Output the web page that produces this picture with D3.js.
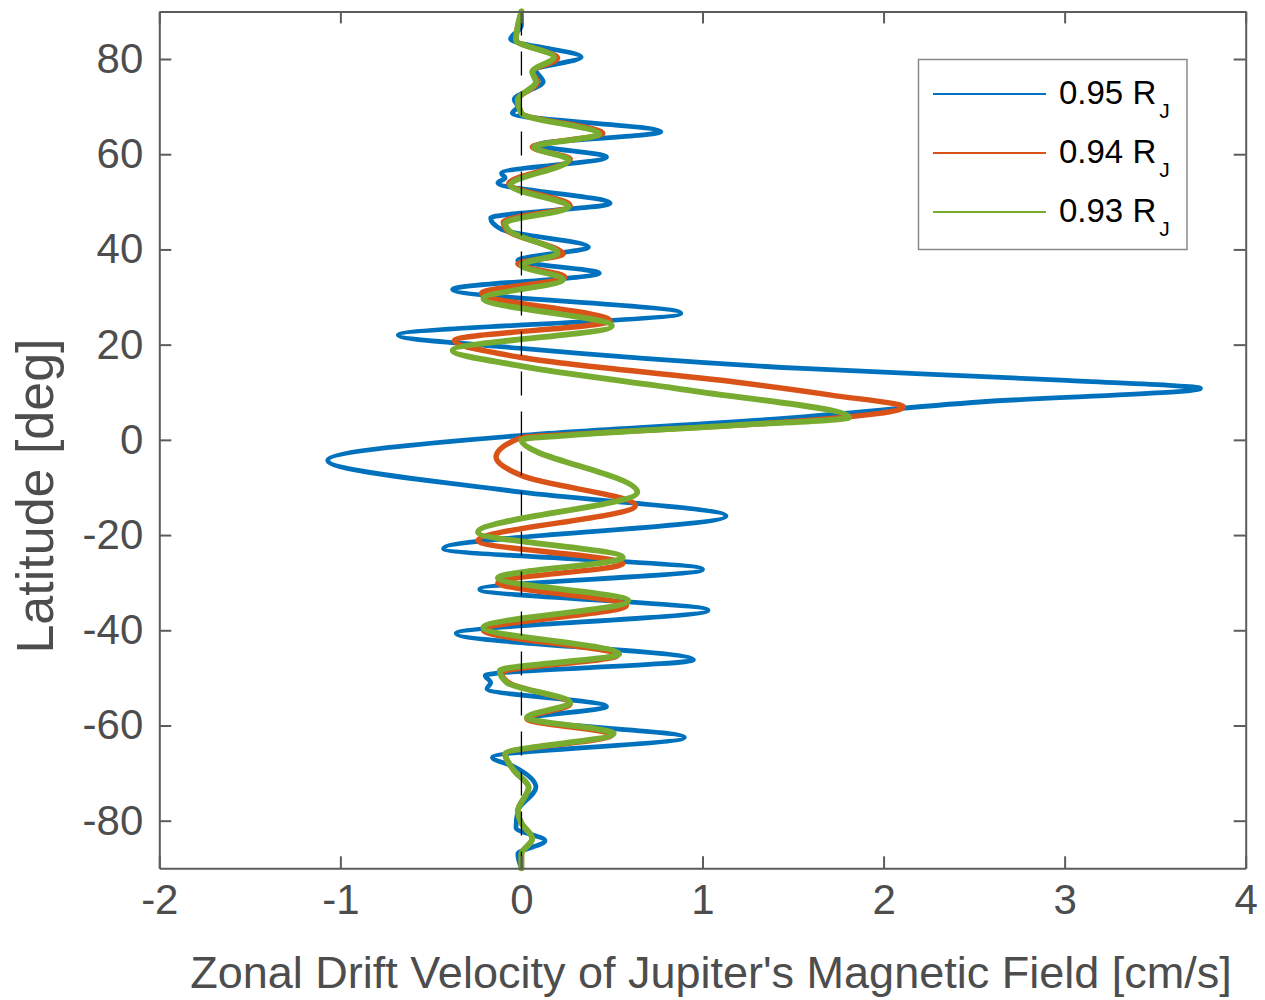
<!DOCTYPE html>
<html>
<head>
<meta charset="utf-8">
<script src="https://cdn.jsdelivr.net/npm/d3@7"></script>
<style>
  html, body { margin: 0; padding: 0; background: #fff; }
  text { font-family: "Liberation Sans", Arial, Helvetica, sans-serif; }
</style>
</head>
<body>
<svg id="chart" width="1265" height="1000"></svg>
<script>
// ---- data: [latitude (deg), zonal drift velocity (cm/s)] ----
const series095 = [
  [90, 0.0], [87, 0.0], [84.2, -0.06], [80.4, 0.33], [77.7, 0.08], [75.2, 0.12],
  [71.5, -0.04], [70, -0.02], [68.6, -0.05], [64.7, 0.77], [62, 0.09], [59.4, 0.47],
  [56, -0.11], [55, -0.09], [54, -0.13], [49.7, 0.49], [46.6, -0.17], [44.2, -0.11],
  [40.5, 0.37], [37.7, -0.02], [35, 0.43], [31.6, -0.38], [26.6, 0.88], [22, -0.68],
  [19.2, 0.0], [15, 1.55], [12.5, 3.01], [10.8, 3.75], [8, 2.55], [4.5, 1.45],
  [1, 0.02], [-4.3, -1.07], [-11, 0.0], [-16, 1.13], [-22.8, -0.43], [-27.2, 1.0],
  [-31.4, -0.23], [-35.8, 1.03], [-40.7, -0.36], [-46.2, 0.95], [-49.5, -0.2],
  [-51, -0.17], [-52.3, -0.19], [-56, 0.47], [-58.6, 0.04], [-62.5, 0.9],
  [-66.7, -0.16], [-68.5, -0.05], [-73, 0.08], [-77.9, -0.02], [-81.5, -0.03],
  [-84.2, 0.13], [-87, -0.02], [-90, 0.0]
];
const series094 = [
  [90, 0.0], [84, -0.03], [80.2, 0.2], [77.3, 0.06], [75.2, 0.09], [71.4, -0.02],
  [68.6, 0.0], [64.4, 0.45], [61.5, 0.06], [59, 0.27], [53.8, -0.07], [49.2, 0.27],
  [45.8, -0.1], [44, -0.08], [39, 0.23], [37, -0.02], [34.2, 0.24], [30.8, -0.22],
  [25, 0.49], [20.9, -0.37], [17.3, 0.0], [12.1, 1.19], [9.4, 1.71], [6.9, 2.11],
  [3.7, 1.45], [1.4, 0.4], [0.5, 0.0], [-3.6, -0.14], [-7.5, 0.0], [-13.8, 0.63],
  [-21.2, -0.24], [-26, 0.56], [-30, -0.13], [-34.8, 0.58], [-40, -0.21],
  [-45.3, 0.53], [-48.9, -0.11], [-51, -0.07], [-55.5, 0.27], [-58.6, 0.03],
  [-62, 0.5], [-66, -0.09], [-69.5, -0.04], [-73, 0.04], [-78, -0.02],
  [-80.5, 0.0], [-83.8, 0.06], [-87, 0.0], [-90, 0.0]
];
const series093 = [
  [90, 0.0], [84, -0.03], [80.4, 0.18], [77.3, 0.06], [75.2, 0.08], [71.4, -0.02],
  [68.6, 0.0], [64.2, 0.43], [61.5, 0.07], [58.8, 0.26], [53.5, -0.06], [48.9, 0.26],
  [45.5, -0.09], [44, -0.07], [39.2, 0.2], [36.7, 0.0], [33.7, 0.23], [29.7, -0.21],
  [23.9, 0.5], [18.8, -0.38], [15.5, 0.0], [10.4, 0.93], [4.7, 1.81], [3, 1.15],
  [1.2, 0.35], [0, 0.0], [-11, 0.64], [-19.4, -0.24], [-24.7, 0.56], [-29, -0.13],
  [-33.8, 0.59], [-39.4, -0.21], [-45, 0.54], [-48.5, -0.12], [-51, -0.08],
  [-55.2, 0.27], [-58.3, 0.03], [-61.7, 0.51], [-66, -0.09], [-69.5, -0.04],
  [-73, 0.04], [-78, -0.02], [-80.5, 0.0], [-83.8, 0.06], [-87, 0.0], [-90, 0.0]
];
const seriesNames = ["0.95", "0.94", "0.93"];
const seriesColors = ["#0072BD", "#D95319", "#77AC30"];
const seriesWidths = [4.8, 5.4, 5.8];
const xTicks = [-2, -1, 0, 1, 2, 3, 4];
const yTicks = [-80, -60, -40, -20, 0, 20, 40, 60, 80];
const xLabel = "Zonal Drift Velocity of Jupiter's Magnetic Field [cm/s]";
const yLabel = "Latitude [deg]";

// ---- layout ----
const svg = d3.select("#chart");
const L = 159.3, R = 1245.7, T = 11.4, B = 868.3;
const x = d3.scaleLinear().domain([-2, 4]).range([L, R]);
const y = d3.scaleLinear().domain([-90, 90]).range([B, T]);
const axisColor = "#5c5c5c", textColor = "#4d4d4d";

const allSeries = [series095, series094, series093];
const line = d3.line().x(d => x(d[1])).y(d => y(d[0])).curve(d3.curveMonotoneY);
const gLines = svg.append("g");
allSeries.forEach((s, i) => {
  gLines.append("path").attr("d", line(s)).attr("fill", "none")
    .attr("stroke", seriesColors[i]).attr("stroke-width", seriesWidths[i])
    .attr("stroke-linejoin", "round").attr("stroke-linecap", "round");
});
// zero dashed line
svg.append("line").attr("x1", x(0)).attr("x2", x(0)).attr("y1", y(90)).attr("y2", y(-90))
  .attr("stroke", "#000").attr("stroke-width", 1.3).attr("stroke-dasharray", "24,16");

// axes (inward ticks, box)
const tickLen = 12;
const bottomAxis = d3.axisBottom(x).tickValues(xTicks).tickSizeInner(-tickLen).tickSizeOuter(0)
  .tickFormat(d3.format("d"));
const topAxis = d3.axisTop(x).tickValues(xTicks).tickSizeInner(-tickLen).tickSizeOuter(0).tickFormat("");
const leftAxis = d3.axisLeft(y).tickValues(yTicks).tickSizeInner(-tickLen).tickSizeOuter(0).tickPadding(16)
  .tickFormat(d3.format("d"));
const rightAxis = d3.axisRight(y).tickValues(yTicks).tickSizeInner(-tickLen).tickSizeOuter(0).tickFormat("");

function styleAxis(g) {
  g.select(".domain").attr("stroke", axisColor).attr("stroke-width", 2);
  g.selectAll(".tick line").attr("stroke", axisColor).attr("stroke-width", 2);
  g.selectAll(".tick text").attr("fill", textColor).style("font-size", "42px")
    .style("font-family", '"Liberation Sans", Arial, sans-serif');
}
svg.append("g").attr("transform", `translate(0,${B})`).call(bottomAxis).call(styleAxis)
  .selectAll(".tick text").attr("dy", null).attr("y", 46);
svg.append("g").attr("transform", `translate(0,${T})`).call(topAxis).call(styleAxis);
svg.append("g").attr("transform", `translate(${L},0)`).call(leftAxis).call(styleAxis);
svg.append("g").attr("transform", `translate(${R},0)`).call(rightAxis).call(styleAxis);
svg.selectAll(".tick text").text(function() { return d3.select(this).text().replace("\u2212", "-"); });

// axis labels
svg.append("text").attr("x", 711).attr("y", 988).attr("text-anchor", "middle")
  .attr("fill", textColor).style("font-size", "45px").text(xLabel);
svg.append("text").attr("transform", "translate(53,496) rotate(-90)").attr("text-anchor", "middle")
  .attr("fill", textColor).style("font-size", "52px").text(yLabel);

// legend
const lg = svg.append("g");
lg.append("rect").attr("x", 918.5).attr("y", 59.5).attr("width", 268.5).attr("height", 190)
  .attr("fill", "#fff").attr("stroke", "#8a8a8a").attr("stroke-width", 1.5);
seriesNames.forEach((n, i) => {
  const ly = 94 + i * 59;
  lg.append("line").attr("x1", 933).attr("x2", 1046).attr("y1", ly).attr("y2", ly)
    .attr("stroke", seriesColors[i]).attr("stroke-width", 2);
  const t = lg.append("text").attr("x", 1059).attr("y", ly + 10).attr("fill", "#000")
    .style("font-size", "33px");
  t.append("tspan").text(n + " R");
  t.append("tspan").attr("dx", 3).attr("dy", 14).style("font-size", "21px").text("J");
});
</script>
</body>
</html>
